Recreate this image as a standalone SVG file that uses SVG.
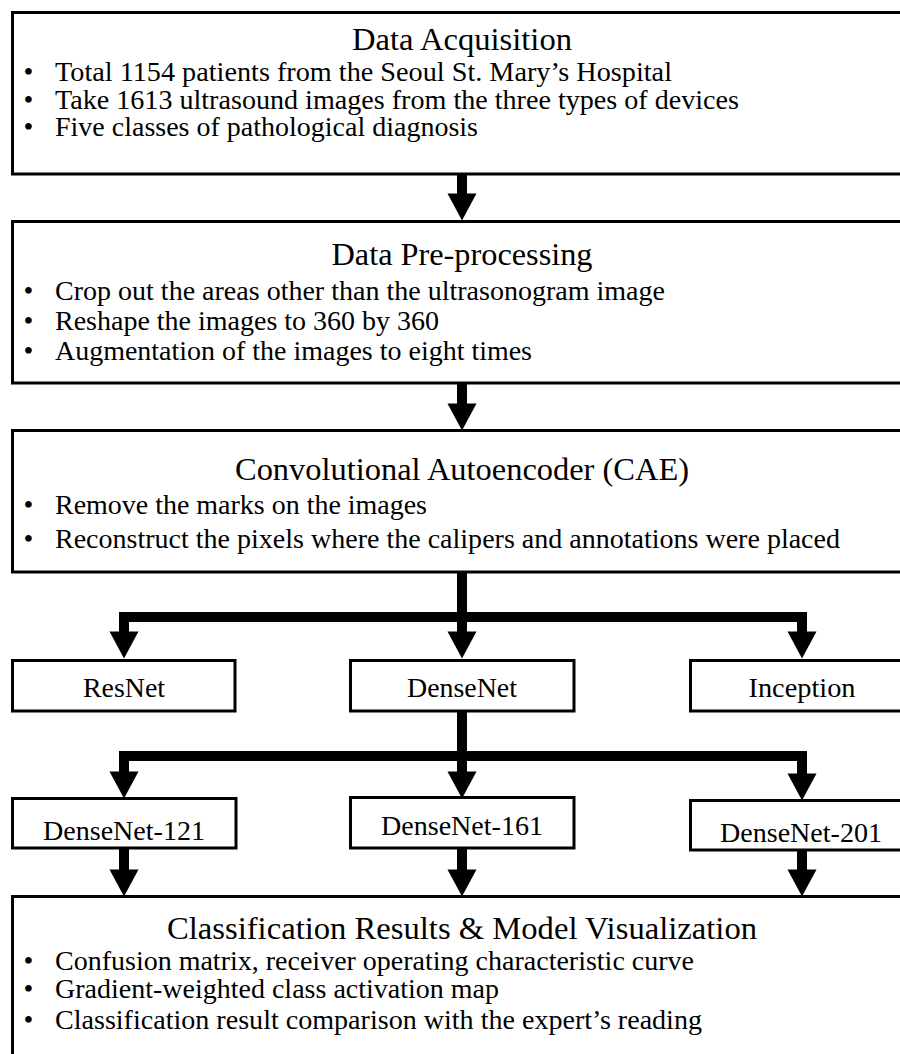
<svg xmlns="http://www.w3.org/2000/svg" width="900" height="1054" viewBox="0 0 900 1054">
<style>
.box{fill:#fff;stroke:#000;stroke-width:3}
.t{font-family:"Liberation Serif","Times New Roman",Times,serif;fill:#000}
.title{font-size:32px;text-anchor:middle}
.b{font-size:28px}
.lab{font-size:28px;text-anchor:middle}
.dot{font-size:28px;text-anchor:middle}
.sh{fill:none;stroke:#000;stroke-width:10;stroke-linejoin:miter}
</style>
<defs>
<marker id="ah" markerUnits="userSpaceOnUse" markerWidth="27" markerHeight="29" viewBox="0 0 27 29" refX="0" refY="14.5" orient="auto" overflow="visible">
<path d="M-0.5,0 L26.5,14.5 L-0.5,29 Z" fill="#000"/>
</marker>
</defs>
<rect width="900" height="1054" fill="#fff"/>
<g id="connectors">
<path class="sh" d="M462,174 L462,194" marker-end="url(#ah)"/>
<path class="sh" d="M462,383 L462,404" marker-end="url(#ah)"/>
<path class="sh" d="M462,572 L462,632" marker-end="url(#ah)"/>
<path class="sh" d="M462,617 L124,617 L124,632" marker-end="url(#ah)"/>
<path class="sh" d="M462,617 L802,617 L802,632" marker-end="url(#ah)"/>
<path class="sh" d="M462,711 L462,772" marker-end="url(#ah)"/>
<path class="sh" d="M462,756 L124,756 L124,772" marker-end="url(#ah)"/>
<path class="sh" d="M462,756 L802,756 L802,774" marker-end="url(#ah)"/>
<path class="sh" d="M124,848 L124,870" marker-end="url(#ah)"/>
<path class="sh" d="M462,848 L462,870" marker-end="url(#ah)"/>
<path class="sh" d="M802,850 L802,870" marker-end="url(#ah)"/>
</g>
<g id="acquisition">
<rect class="box" x="12.5" y="12.5" width="900" height="161.5"/>
<text class="t title" x="462" y="50" textLength="220" lengthAdjust="spacingAndGlyphs">Data Acquisition</text>
<text class="t dot" x="28.5" y="81">•</text>
<text class="t b" x="55" y="81" textLength="617" lengthAdjust="spacingAndGlyphs">Total 1154 patients from the Seoul St. Mary’s Hospital</text>
<text class="t dot" x="28.5" y="109">•</text>
<text class="t b" x="55" y="109" textLength="684" lengthAdjust="spacingAndGlyphs">Take 1613 ultrasound images from the three types of devices</text>
<text class="t dot" x="28.5" y="136">•</text>
<text class="t b" x="55" y="136" textLength="423" lengthAdjust="spacingAndGlyphs">Five classes of pathological diagnosis</text>
</g>
<g id="preprocessing">
<rect class="box" x="12.5" y="221.5" width="900" height="161.5"/>
<text class="t title" x="462" y="265" textLength="261" lengthAdjust="spacingAndGlyphs">Data Pre-processing</text>
<text class="t dot" x="28.5" y="300">•</text>
<text class="t b" x="55" y="300" textLength="610" lengthAdjust="spacingAndGlyphs">Crop out the areas other than the ultrasonogram image</text>
<text class="t dot" x="28.5" y="330">•</text>
<text class="t b" x="55" y="330" textLength="384" lengthAdjust="spacingAndGlyphs">Reshape the images to 360 by 360</text>
<text class="t dot" x="28.5" y="360">•</text>
<text class="t b" x="55" y="360" textLength="477" lengthAdjust="spacingAndGlyphs">Augmentation of the images to eight times</text>
</g>
<g id="cae">
<rect class="box" x="12.5" y="430.5" width="900" height="141.5"/>
<text class="t title" x="462" y="480" textLength="454" lengthAdjust="spacingAndGlyphs">Convolutional Autoencoder (CAE)</text>
<text class="t dot" x="28.5" y="514">•</text>
<text class="t b" x="55" y="514" textLength="372" lengthAdjust="spacingAndGlyphs">Remove the marks on the images</text>
<text class="t dot" x="28.5" y="548">•</text>
<text class="t b" x="55" y="548" textLength="785" lengthAdjust="spacingAndGlyphs">Reconstruct the pixels where the calipers and annotations were placed</text>
</g>
<g id="resnet">
<rect class="box" x="12.5" y="660.5" width="222.5" height="50.5"/>
<text class="t lab" x="124" y="697" textLength="82" lengthAdjust="spacingAndGlyphs">ResNet</text>
</g>
<g id="densenet">
<rect class="box" x="350.5" y="660.5" width="223.5" height="50.5"/>
<text class="t lab" x="462" y="697" textLength="110" lengthAdjust="spacingAndGlyphs">DenseNet</text>
</g>
<g id="inception">
<rect class="box" x="690.5" y="660.5" width="230" height="50.5"/>
<text class="t lab" x="802" y="697" textLength="107" lengthAdjust="spacingAndGlyphs">Inception</text>
</g>
<g id="densenet121">
<rect class="box" x="12.5" y="798.5" width="223.5" height="49.5"/>
<text class="t lab" x="124" y="840" textLength="162" lengthAdjust="spacingAndGlyphs">DenseNet-121</text>
</g>
<g id="densenet161">
<rect class="box" x="350.5" y="797.5" width="223.5" height="50.5"/>
<text class="t lab" x="462" y="835" textLength="162" lengthAdjust="spacingAndGlyphs">DenseNet-161</text>
</g>
<g id="densenet201">
<rect class="box" x="690.5" y="800.5" width="230" height="49.5"/>
<text class="t lab" x="801" y="842" textLength="162" lengthAdjust="spacingAndGlyphs">DenseNet-201</text>
</g>
<g id="results">
<rect class="box" x="12.5" y="896.5" width="900" height="170"/>
<text class="t title" x="462" y="939" textLength="590" lengthAdjust="spacingAndGlyphs">Classification Results &amp; Model Visualization</text>
<text class="t dot" x="28.5" y="970">•</text>
<text class="t b" x="55" y="970" textLength="639" lengthAdjust="spacingAndGlyphs">Confusion matrix, receiver operating characteristic curve</text>
<text class="t dot" x="28.5" y="998">•</text>
<text class="t b" x="55" y="998" textLength="444" lengthAdjust="spacingAndGlyphs">Gradient-weighted class activation map</text>
<text class="t dot" x="28.5" y="1029">•</text>
<text class="t b" x="55" y="1029" textLength="647" lengthAdjust="spacingAndGlyphs">Classification result comparison with the expert’s reading</text>
</g>
</svg>
